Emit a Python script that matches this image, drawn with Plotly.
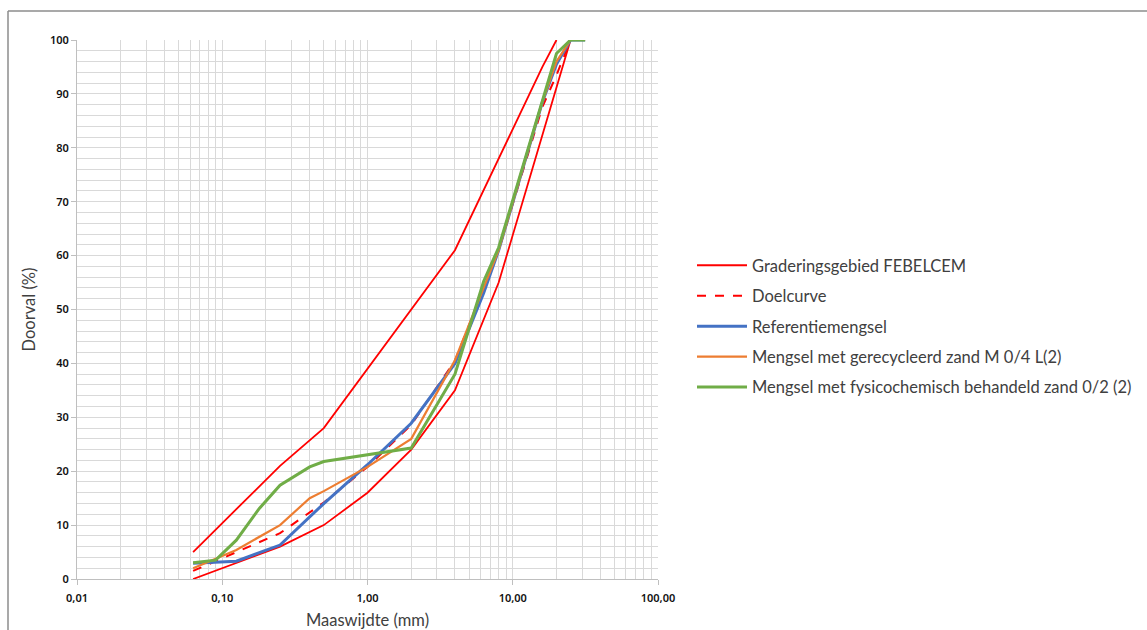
import plotly.graph_objects as go

# Sieve openings (mm) and cumulative passing (%) per curve
upper_x = [0.063, 0.25, 0.5, 4, 16, 20]
upper_y = [5, 21, 28, 61, 95, 100]

lower_x = [0.063, 0.125, 0.25, 0.5, 1, 2, 4, 8, 25]
lower_y = [0, 3, 6, 10, 16, 24, 35, 55, 100]

doel_x = [0.063, 0.125, 0.25, 0.5, 1, 2, 4, 8, 16, 20, 25]
doel_y = [1.5, 5, 8.5, 14.2, 20.8, 28.6, 40.5, 61, 87.6, 93.5, 100]

ref_x = [0.063, 0.125, 0.25, 0.5, 1, 2, 4, 6.3, 8, 16, 20, 25, 31.5]
ref_y = [2.9, 3.3, 6.3, 14, 21.2, 28.9, 40, 53, 61, 88.5, 95.5, 100, 100]

recy_x = [0.063, 0.125, 0.25, 0.4, 0.5, 1, 2, 4, 6.3, 8, 16, 20, 25, 31.5]
recy_y = [2.0, 5.4, 10, 15, 16.3, 20.8, 26, 40.6, 54, 61, 88.5, 96, 100, 100]

fysi_x = [0.063, 0.09, 0.125, 0.18, 0.25, 0.4, 0.5, 1, 2, 4, 6.3, 8, 16, 20, 25, 31.5]
fysi_y = [3.0, 3.5, 7.2, 13.1, 17.4, 20.8, 21.8, 23, 24.3, 38, 55.2, 61.5, 89, 97.5, 100, 100]

x_tickvals = [0.01, 0.1, 1, 10, 100]
x_ticktext = ["0,01", "0,10", "1,00", "10,00", "100,00"]
y_tickvals = [0, 10, 20, 30, 40, 50, 60, 70, 80, 90, 100]

RED = "#ff0000"
BLUE = "#4472c4"
ORANGE = "#ed7d31"
GREEN = "#70ad47"

fig = go.Figure()
fig.add_trace(go.Scatter(x=upper_x, y=upper_y, mode="lines", name="Graderingsgebied FEBELCEM",
                         line=dict(color=RED, width=1.8), legendgroup="g1"))
fig.add_trace(go.Scatter(x=lower_x, y=lower_y, mode="lines", name="Graderingsgebied FEBELCEM",
                         line=dict(color=RED, width=1.8), legendgroup="g1", showlegend=False))
fig.add_trace(go.Scatter(x=doel_x, y=doel_y, mode="lines", name="Doelcurve",
                         line=dict(color=RED, width=2, dash="dash"), legendgroup="g2"))
fig.add_trace(go.Scatter(x=ref_x, y=ref_y, mode="lines", name="Referentiemengsel",
                         line=dict(color=BLUE, width=3), legendgroup="g3"))
fig.add_trace(go.Scatter(x=recy_x, y=recy_y, mode="lines", name="Mengsel met gerecycleerd zand M 0/4 L(2)",
                         line=dict(color=ORANGE, width=2.2), legendgroup="g4"))
fig.add_trace(go.Scatter(x=fysi_x, y=fysi_y, mode="lines", name="Mengsel met fysicochemisch behandeld zand 0/2 (2)",
                         line=dict(color=GREEN, width=3), legendgroup="g5"))

grid = "#d9d9d9"
tickfont = dict(family="Noto Sans", size=11, color="#111111", weight=600)
titlefont = dict(family="Lato", size=16.5, color="#404040")

fig.update_layout(
    width=1147, height=630,
    margin=dict(l=77, r=489, t=40, b=51),
    paper_bgcolor="white", plot_bgcolor="white",
    showlegend=True,
    legend=dict(xref="container", yref="container",
                x=692/1147, xanchor="left", y=1 - 248/630, yanchor="top",
                font=dict(family="Lato", size=16.5, color="#404040"),
                traceorder="grouped", tracegroupgap=6,
                bgcolor="rgba(0,0,0,0)", itemwidth=50),
    xaxis=dict(type="log", range=[-2, 2], tickmode="array", tickvals=x_tickvals,
               ticktext=x_ticktext, tickfont=tickfont, automargin=False,
               ticklabelstandoff=4,
               showgrid=True, gridcolor=grid, gridwidth=1,
               minor=dict(showgrid=True, gridcolor=grid, gridwidth=1, dtick="D1", ticks=""),
               showline=True, linecolor="#bfbfbf", linewidth=1,
               ticks="outside", ticklen=5, tickcolor="#bfbfbf",
               zeroline=False,
               title=dict(text="Maaswijdte (mm)", font=titlefont, standoff=10)),
    yaxis=dict(range=[0, 100], tickmode="array", tickvals=y_tickvals, tickfont=tickfont,
               automargin=False,
               showgrid=True, gridcolor=grid, gridwidth=1,
               minor=dict(showgrid=True, gridcolor=grid, gridwidth=1, dtick=2, ticks=""),
               showline=True, linecolor="#bfbfbf", linewidth=1,
               ticks="outside", ticklen=5, tickcolor="#bfbfbf",
               zeroline=False,
               title=dict(text="Doorval (%)", font=titlefont, standoff=10)),
    shapes=[
        dict(type="line", xref="paper", yref="paper", x0=-69/581, x1=1070/581,
             y0=(579-11)/539, y1=(579-11)/539, line=dict(color="#8c8c8c", width=1.5)),
        dict(type="line", xref="paper", yref="paper", x0=-69/581, x1=-69/581,
             y0=(579-11)/539, y1=(579-640)/539, line=dict(color="#8c8c8c", width=1.5)),
    ],
)

fig.write_html("out.html")
